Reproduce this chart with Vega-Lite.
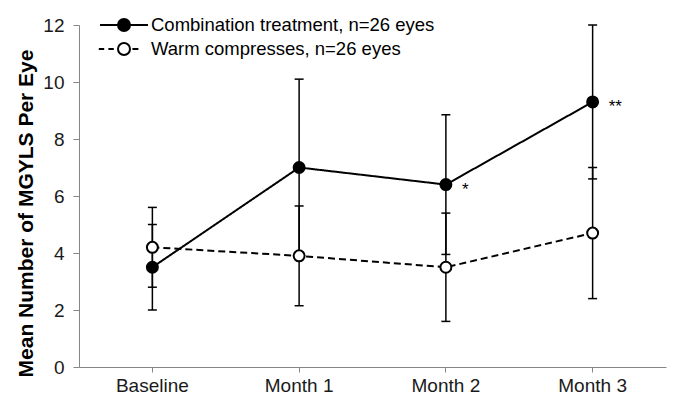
{
  "$schema": "https://vega.github.io/schema/vega-lite/v6.json",
  "width": 587,
  "height": 342,
  "autosize": {"type": "none"},
  "padding": {"left": 79, "top": 25, "right": 8, "bottom": 30},
  "config": {"view": {"stroke": null}, "font": "Liberation Sans"},
  "data": {
    "values": [
      {"series": "Combination treatment, n=26 eyes", "time": "Baseline", "mean": 3.5, "lower": 2.0, "upper": 5.0, "label": ""},
      {"series": "Combination treatment, n=26 eyes", "time": "Month 1", "mean": 7.0, "lower": 3.9, "upper": 10.1, "label": ""},
      {"series": "Combination treatment, n=26 eyes", "time": "Month 2", "mean": 6.4, "lower": 3.95, "upper": 8.85, "label": "*"},
      {"series": "Combination treatment, n=26 eyes", "time": "Month 3", "mean": 9.3, "lower": 6.6, "upper": 12.0, "label": "**"},
      {"series": "Warm compresses, n=26 eyes", "time": "Baseline", "mean": 4.2, "lower": 2.8, "upper": 5.6, "label": ""},
      {"series": "Warm compresses, n=26 eyes", "time": "Month 1", "mean": 3.9, "lower": 2.15, "upper": 5.65, "label": ""},
      {"series": "Warm compresses, n=26 eyes", "time": "Month 2", "mean": 3.5, "lower": 1.6, "upper": 5.4, "label": ""},
      {"series": "Warm compresses, n=26 eyes", "time": "Month 3", "mean": 4.7, "lower": 2.4, "upper": 7.0, "label": ""}
    ]
  },
  "encoding": {
    "x": {
      "field": "time",
      "type": "nominal",
      "sort": ["Baseline", "Month 1", "Month 2", "Month 3"],
      "scale": {"paddingInner": 0, "paddingOuter": 0},
      "axis": {
        "title": null,
        "labelAngle": 0,
        "domainColor": "#868686",
        "tickColor": "#868686",
        "tickSize": 5,
        "labelFontSize": 19,
        "labelColor": "#1a1a1a",
        "labelPadding": 4
      }
    }
  },
  "layer": [
    {
      "mark": {"type": "rule", "color": "black", "strokeWidth": 1.5},
      "encoding": {
        "y": {
          "field": "lower",
          "type": "quantitative",
          "scale": {"domain": [0, 12]},
          "axis": {
            "title": "Mean Number of MGYLS Per Eye",
            "titleFontSize": 21,
            "titleFontWeight": "bold",
            "titleColor": "black",
            "titleY": 188,
            "titlePadding": 6,
            "values": [0, 2, 4, 6, 8, 10, 12],
            "grid": false,
            "domainColor": "#868686",
            "tickColor": "#868686",
            "tickSize": 6,
            "labelFontSize": 19,
            "labelColor": "#1a1a1a",
            "labelPadding": 9
          }
        },
        "y2": {"field": "upper"}
      }
    },
    {
      "mark": {"type": "tick", "color": "black", "size": 9, "thickness": 1.5, "opacity": 1},
      "encoding": {"y": {"field": "lower", "type": "quantitative"}}
    },
    {
      "mark": {"type": "tick", "color": "black", "size": 9, "thickness": 1.5, "opacity": 1},
      "encoding": {"y": {"field": "upper", "type": "quantitative"}}
    },
    {
      "mark": {"type": "line", "color": "black", "strokeWidth": 2},
      "encoding": {
        "y": {"field": "mean", "type": "quantitative"},
        "detail": {"field": "series", "type": "nominal"},
        "strokeDash": {
          "field": "series",
          "type": "nominal",
          "scale": {"domain": ["Warm compresses, n=26 eyes", "Combination treatment, n=26 eyes"], "range": [[7, 4], [1, 0]]},
          "legend": null
        }
      }
    },
    {
      "mark": {"type": "point", "shape": "circle", "size": 120, "stroke": "black", "strokeWidth": 2, "opacity": 1, "fillOpacity": 1},
      "encoding": {
        "y": {"field": "mean", "type": "quantitative"},
        "fill": {
          "field": "series",
          "type": "nominal",
          "scale": {"domain": ["Combination treatment, n=26 eyes", "Warm compresses, n=26 eyes"], "range": ["black", "white"]},
          "legend": {
            "orient": "none",
            "legendX": 32,
            "legendY": -13,
            "title": null,
            "padding": 0,
            "labelFontSize": 18.5,
            "labelColor": "black",
            "labelLimit": 400,
            "symbolSize": 576,
            "symbolOpacity": 1,
            "labelOffset": 14,
            "rowPadding": 1,
            "symbolStrokeColor": "black",
            "symbolStrokeWidth": 2
          }
        }
      }
    },
    {
      "mark": {"type": "point", "size": 120, "opacity": 0},
      "encoding": {
        "y": {"field": "mean", "type": "quantitative"},
        "shape": {
          "field": "series",
          "type": "nominal",
          "scale": {
            "domain": ["Combination treatment, n=26 eyes", "Warm compresses, n=26 eyes"],
            "range": [
              "M-2,0H-0.5M0.5,0H2M-0.5,0A0.5,0.5,0,1,0,0.5,0A0.5,0.5,0,1,0,-0.5,0Z",
              "M-2.1,0H-1.65M-1.3,0H-0.85M0.7,0H1.2M-0.5,0A0.5,0.5,0,1,0,0.5,0A0.5,0.5,0,1,0,-0.5,0Z"
            ]
          },
          "legend": {
            "orient": "none",
            "legendX": 32,
            "legendY": -13,
            "title": null,
            "padding": 0,
            "labelFontSize": 18.5,
            "labelColor": "black",
            "labelLimit": 400,
            "symbolSize": 576,
            "symbolOpacity": 1,
            "labelOffset": 14,
            "rowPadding": 1,
            "symbolStrokeColor": "black",
            "symbolStrokeWidth": 2
          }
        }
      }
    },
    {
      "mark": {"type": "text", "align": "left", "baseline": "middle", "dx": 16, "dy": 5, "fontSize": 17, "color": "black"},
      "encoding": {
        "y": {"field": "mean", "type": "quantitative"},
        "text": {"field": "label"}
      }
    }
  ]
}
